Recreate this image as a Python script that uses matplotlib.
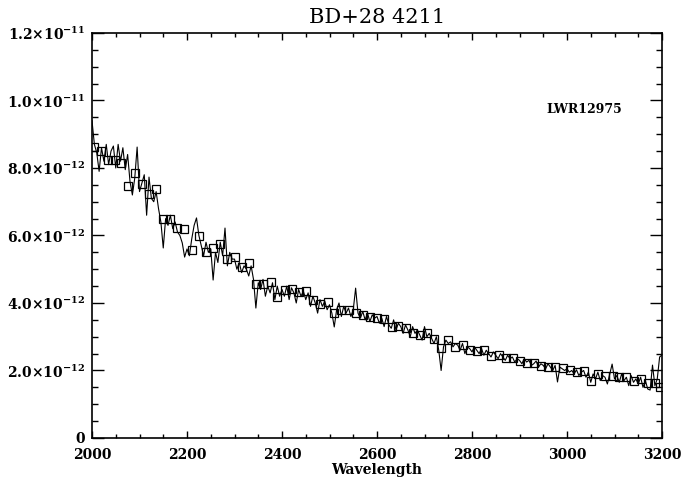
import matplotlib
matplotlib.use("Agg")
import matplotlib.pyplot as plt
from matplotlib.ticker import MultipleLocator, FuncFormatter
import numpy as np

plt.rcParams['font.family'] = ['DejaVu Serif']
plt.rcParams['mathtext.fontset'] = 'dejavuserif'
plt.rcParams['mathtext.default'] = 'bf'

title = "BD+28 4211"
image_name = "LWR12975"
x_label = "Wavelength"
y_ticks = [0, 2e-12, 4e-12, 6e-12, 8e-12, 1.0e-11, 1.2e-11]
x_ticks = [2000, 2200, 2400, 2600, 2800, 3000, 3200]

# spectrum, sampled every 5 A from 2000 A, flux in 1e-12 units
wave_start = 2000
wave_step = 5
flux = [
    9.40, 8.70, 8.45, 7.90, 8.60, 8.20, 8.70, 8.10, 8.50, 8.65,
    8.00, 8.70, 8.20, 8.60, 7.95, 8.40, 7.60, 7.20, 7.70, 8.62,
    7.30, 7.55, 7.80, 6.60, 7.73, 7.10, 7.00, 7.30, 6.80, 6.40,
    5.63, 6.50, 6.30, 6.60, 6.20, 6.40, 6.10, 6.00, 5.78, 5.36,
    5.60, 5.40, 5.90, 6.30, 6.52, 6.00, 5.70, 5.40, 5.80, 5.50,
    5.60, 4.68, 5.50, 5.20, 5.80, 5.40, 6.22, 5.10, 5.50, 5.30,
    5.30, 5.00, 5.20, 4.90, 5.10, 5.00, 4.80, 5.10, 4.70, 3.85,
    4.60, 4.40, 4.70, 4.20, 4.50, 4.30, 4.60, 4.10, 4.50, 4.20,
    4.40, 4.20, 4.50, 4.10, 4.45, 4.30, 4.00, 4.40, 4.20, 4.35,
    4.10, 4.30, 3.90, 4.20, 4.00, 3.70, 4.10, 3.90, 4.05, 3.80,
    3.95, 3.70, 3.29, 3.80, 4.00, 3.60, 3.90, 3.70, 3.85, 3.60,
    3.80, 4.44, 3.70, 3.55, 3.75, 3.50, 3.70, 3.45, 3.65, 3.55,
    3.60, 3.40, 3.55, 3.30, 3.60, 3.35, 3.25, 3.50, 3.20, 3.40,
    3.30, 3.10, 3.35, 3.20, 3.00, 3.30, 3.10, 3.20, 3.05, 2.90,
    3.30, 3.00, 3.10, 2.95, 2.80, 3.00, 2.60, 2.00, 2.70, 2.90,
    2.80, 2.85, 2.70, 2.80, 2.75, 2.60, 2.80, 2.50, 2.70, 2.65,
    2.55, 2.70, 2.60, 2.50, 2.65, 2.45, 2.60, 2.50, 2.40, 2.55,
    2.45, 2.35, 2.50, 2.40, 2.30, 2.45, 2.35, 2.40, 2.25, 2.35,
    2.30, 2.20, 2.35, 2.25, 2.30, 2.15, 2.20, 2.28, 2.10, 2.20,
    2.15, 2.05, 2.20, 2.10, 2.00, 2.15, 1.66, 2.10, 2.05, 2.00,
    2.05, 1.95, 2.00, 1.90, 2.02, 1.85, 1.95, 2.00, 1.80, 1.95,
    1.65, 1.90, 1.75, 1.95, 1.70, 1.85, 1.80, 1.60, 1.90, 2.19,
    1.75, 1.85, 1.65, 1.90, 1.70, 1.80, 1.55, 1.85, 1.65, 1.75,
    1.60, 1.80, 1.50, 1.70, 1.45, 1.42, 2.16, 1.55, 1.75, 2.40,
    2.46,
]

# binned points (squares)
bin_wave = [
    2004, 2019, 2034, 2048, 2062, 2076, 2091, 2105, 2120, 2135,
    2150, 2164, 2179, 2194, 2210, 2225, 2240, 2255, 2270, 2285,
    2300, 2315, 2330, 2345, 2360, 2376, 2390, 2406, 2421, 2436,
    2450, 2465, 2480, 2496, 2510, 2525, 2540, 2555, 2571, 2586,
    2600, 2615, 2631, 2645, 2660, 2676, 2691, 2705, 2720, 2735,
    2749, 2765, 2780, 2796, 2811, 2825, 2841, 2856, 2871, 2886,
    2901, 2916, 2931, 2945, 2960, 2975, 2991, 3006, 3021, 3036,
    3051, 3065, 3080, 3096, 3110, 3125, 3140, 3155, 3170, 3185,
    3196,
]
bin_flux = [
    8.62, 8.50, 8.24, 8.24, 8.15, 7.47, 7.85, 7.52, 7.22, 7.38,
    6.50, 6.50, 6.22, 6.20, 5.57, 5.98, 5.50, 5.63, 5.75, 5.30,
    5.36, 5.07, 5.17, 4.57, 4.56, 4.63, 4.18, 4.38, 4.41, 4.33,
    4.36, 4.09, 3.97, 4.03, 3.70, 3.80, 3.80, 3.70, 3.63, 3.58,
    3.56, 3.53, 3.29, 3.32, 3.26, 3.11, 3.05, 3.11, 2.93, 2.67,
    2.90, 2.70, 2.76, 2.61, 2.58, 2.61, 2.43, 2.46, 2.37, 2.37,
    2.28, 2.22, 2.22, 2.13, 2.10, 2.10, 2.07, 2.01, 1.96, 1.99,
    1.69, 1.90, 1.84, 1.84, 1.81, 1.81, 1.69, 1.75, 1.63, 1.63,
    1.51,
]

wave = wave_start + wave_step * np.arange(len(flux))
flux = np.array(flux) * 1e-12
bin_flux = np.array(bin_flux) * 1e-12


def sci_label(v, pos):
    if abs(v) < 1e-20:
        return "0"
    e = int(np.floor(np.log10(abs(v)) + 1e-9))
    m = v / 10.0 ** e
    return "%.1f×10$^{%d}$" % (m, e)


fig = plt.figure(figsize=(6.81, 4.78), dpi=100)
ax = fig.add_axes([0.1351, 0.0837, 0.837, 0.8473])

ax.plot(wave, flux, color='black', linewidth=0.8)
ax.plot(bin_wave, bin_flux, linestyle='none', marker='s', markersize=5.6,
        markerfacecolor='none', markeredgecolor='black', markeredgewidth=0.9)

ax.set_xlim(2000, 3200)
ax.set_ylim(0, 1.2e-11)
ax.set_xticks(x_ticks)
ax.set_yticks(y_ticks)
ax.xaxis.set_minor_locator(MultipleLocator(50))
ax.yaxis.set_minor_locator(MultipleLocator(0.5e-12))
ax.yaxis.set_major_formatter(FuncFormatter(sci_label))

ax.tick_params(axis='both', which='both', direction='in', top=True, right=True,
               width=1.0, labelsize=10)
ax.tick_params(axis='x', which='major', length=5, pad=7)
ax.tick_params(axis='x', which='minor', length=3)
ax.tick_params(axis='y', which='major', length=8.5, pad=5)
ax.tick_params(axis='y', which='minor', length=4.2)
for lab in ax.get_xticklabels() + ax.get_yticklabels():
    lab.set_fontweight('bold')
for s in ax.spines.values():
    s.set_linewidth(1.2)

ax.set_title(title, fontsize=15, pad=7)
ax.set_xlabel(x_label, fontsize=10, fontweight='bold', labelpad=1)
ax.text(3036, 9.72e-12, image_name, fontsize=9, fontweight='bold',
        ha='center', va='center')

fig.savefig("out.png", dpi=100)
